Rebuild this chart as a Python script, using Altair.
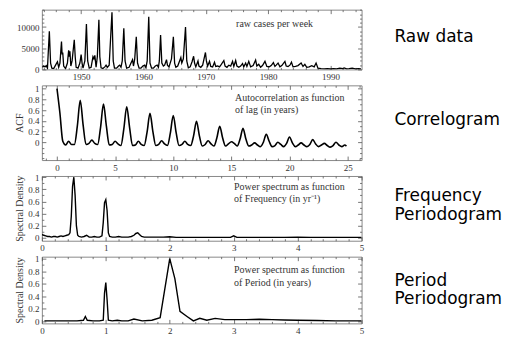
import altair as alt
import pandas as pd

# ---------------- data ----------------
raw_year = [1943.8, 1944.0, 1944.2, 1944.4, 1944.6, 1944.9, 1945.1, 1945.3, 1945.6, 1945.9,
            1946.2, 1946.4, 1946.6, 1946.85, 1946.95, 1947.05, 1947.2, 1947.5, 1947.8, 1948.0,
            1948.1, 1948.2, 1948.35, 1948.55, 1948.9, 1949.05, 1949.2, 1949.5, 1949.8, 1950.0,
            1950.15, 1950.3, 1950.6, 1950.85, 1951.05, 1951.3, 1951.6, 1951.9, 1952.05, 1952.2,
            1952.4, 1952.6, 1952.85, 1953.0, 1953.2, 1953.5, 1953.8, 1954.0, 1954.2, 1954.5,
            1954.95, 1955.15, 1955.35, 1955.7, 1956.0, 1956.2, 1956.4, 1956.6, 1956.85, 1957.05,
            1957.3, 1957.7, 1958.0, 1958.25, 1958.4, 1958.6, 1958.85, 1959.05, 1959.3, 1959.6,
            1959.9, 1960.2, 1960.4, 1960.6, 1960.85, 1961.05, 1961.3, 1961.6, 1961.9, 1962.2,
            1962.4, 1962.55, 1962.75, 1962.95, 1963.2, 1963.4, 1963.7, 1963.85, 1964.1, 1964.5,
            1964.8, 1965.0, 1965.2, 1965.5, 1965.8, 1966.0, 1966.15, 1966.4, 1966.75, 1966.95,
            1967.2, 1967.5, 1967.8, 1968.05, 1968.2, 1968.4, 1968.75, 1968.9, 1969.2, 1969.5,
            1969.95, 1970.1, 1970.3, 1970.6, 1970.8, 1971.1, 1971.4, 1971.6, 1971.9, 1972.2,
            1972.5, 1972.9, 1973.1, 1973.4, 1973.7, 1974.0, 1974.3, 1974.5, 1974.8, 1975.0,
            1975.3, 1975.6, 1975.9, 1976.1, 1976.4, 1976.6, 1976.9, 1977.2, 1977.6, 1978.0,
            1978.2, 1978.5, 1978.8, 1979.1, 1979.5, 1979.8, 1980.2, 1980.5, 1980.85, 1981.1,
            1981.3, 1981.6, 1981.9, 1982.2, 1982.7, 1982.9, 1983.2, 1983.5, 1983.75, 1984.0,
            1984.4, 1984.8, 1985.3, 1985.6, 1985.9, 1986.2, 1986.6, 1987.0, 1987.4, 1987.7,
            1988.0, 1988.5, 1989.0, 1989.5, 1990.0, 1990.5, 1991.0, 1991.5, 1992.0, 1992.2,
            1992.6, 1993.0, 1993.5, 1994.0, 1994.5, 1994.9]
raw_cases = [500, 800, 600, 900, 300, 9000, 1500, 300, 200, 1000,
             1800, 500, 1500, 6600, 3500, 4000, 800, 200, 1500, 4500,
             3000, 4300, 800, 2000, 7000, 3000, 500, 300, 1500, 3500,
             1500, 300, 2000, 10700, 2000, 300, 500, 3000, 2500, 3300,
             500, 3000, 11700, 3000, 400, 200, 600, 1000, 500, 1000,
             13500, 2000, 300, 300, 800, 1000, 500, 2000, 9700, 2000,
             300, 500, 1500, 2300, 800, 2500, 7700, 1500, 300, 300,
             800, 1000, 400, 2000, 12400, 1500, 300, 300, 800, 1000,
             500, 2000, 8100, 1500, 800, 1000, 2300, 1000, 600, 2500,
             7700, 1500, 500, 800, 2000, 2800, 1500, 2500, 10000, 2000,
             400, 600, 1800, 3100, 1500, 600, 2000, 800, 500, 1000,
             4000, 2000, 800, 1900, 700, 600, 1700, 700, 800, 600,
             1200, 2100, 800, 500, 1000, 800, 1900, 700, 2100, 800,
             500, 800, 1400, 600, 1500, 700, 1900, 600, 900, 2200,
             800, 1200, 500, 900, 1900, 700, 600, 900, 1600, 700,
             1000, 1500, 600, 900, 1900, 800, 700, 1000, 1700, 600,
             700, 900, 1500, 700, 1200, 500, 600, 900, 600, 1500,
             300, 200, 150, 200, 100, 200, 150, 300, 200, 350,
             150, 200, 300, 150, 200, 150]

acf_lag = [0, 0.25, 0.5, 0.75, 1, 1.25, 1.5, 1.75, 2, 2.25, 2.5, 2.75, 3, 3.25, 3.5, 3.75,
           4, 4.25, 4.5, 4.75, 5, 5.25, 5.5, 5.75, 6, 6.25, 6.5, 6.75, 7, 7.25, 7.5, 7.75,
           8, 8.25, 8.5, 8.75, 9, 9.25, 9.5, 9.75, 10, 10.25, 10.5, 10.75, 11, 11.25, 11.5, 11.75,
           12, 12.25, 12.5, 12.75, 13, 13.25, 13.5, 13.75, 14, 14.25, 14.5, 14.75, 15, 15.25, 15.5, 15.75,
           16, 16.25, 16.5, 16.75, 17, 17.25, 17.5, 17.75, 18, 18.25, 18.5, 18.75, 19, 19.25, 19.5, 19.75,
           20, 20.25, 20.5, 20.75, 21, 21.25, 21.5, 21.75, 22, 22.25, 22.5, 22.75, 23, 23.25, 23.5, 23.75,
           24, 24.25, 24.5, 24.75, 24.9]
acf_val = [1.00, 0.55, 0.02, -0.05, 0.02, -0.04, -0.04, 0.30,
           0.78, 0.32, -0.04, -0.02, 0.04, -0.02, -0.04, 0.28,
           0.71, 0.30, -0.05, -0.04, 0.02, -0.03, -0.06, 0.25,
           0.66, 0.27, -0.06, -0.05, 0.02, -0.04, -0.06, 0.19,
           0.54, 0.20, -0.06, -0.04, 0.03, -0.03, -0.06, 0.17,
           0.50, 0.18, -0.06, -0.04, 0.02, -0.04, -0.06, 0.12,
           0.39, 0.12, -0.07, -0.04, 0.03, -0.03, -0.07, 0.08,
           0.30, 0.08, -0.07, -0.03, 0.01, -0.02, -0.07, 0.06,
           0.26, 0.06, -0.07, -0.05, -0.01, -0.05, -0.08, 0.00,
           0.15, 0.02, -0.08, -0.06, 0.00, -0.04, -0.08, -0.02,
           0.10, -0.01, -0.08, -0.05, -0.01, -0.05, -0.08, -0.04,
           0.05, -0.03, -0.08, -0.05, -0.02, -0.06, -0.09, -0.06,
           0.00, -0.05, -0.08, -0.05, -0.07]

freq = [0, 0.03, 0.06, 0.09, 0.12, 0.15, 0.18, 0.21, 0.24, 0.27,
        0.3, 0.33, 0.36, 0.39, 0.42, 0.44, 0.46, 0.48, 0.5, 0.52,
        0.54, 0.56, 0.58, 0.62, 0.66, 0.7, 0.74, 0.78, 0.82, 0.86,
        0.9, 0.94, 0.96, 0.98, 1.0, 1.02, 1.04, 1.06, 1.1, 1.15,
        1.2, 1.25, 1.3, 1.35, 1.4, 1.44, 1.47, 1.5, 1.53, 1.56,
        1.6, 1.7, 1.8, 1.9, 2.0, 2.1, 2.2, 2.4, 2.6, 2.8,
        2.95, 3.0, 3.05, 3.2, 3.4, 3.6, 3.8, 4.0, 4.2, 4.4,
        4.6, 4.8, 5.0]
freq_power = [0.05, 0.04, 0.03, 0.02, 0.02, 0.01, 0.02, 0.02, 0.01, 0.02,
              0.03, 0.02, 0.03, 0.04, 0.05, 0.08, 0.35, 0.85, 1.0, 0.7,
              0.2, 0.04, 0.02, 0.01, 0.02, 0.04, 0.01, 0.01, 0.02, 0.01,
              0.01, 0.03, 0.25, 0.58, 0.63, 0.45, 0.08, 0.02, 0.01, 0.01,
              0.02, 0.01, 0.01, 0.01, 0.02, 0.04, 0.07, 0.08, 0.05, 0.02,
              0.01, 0.01, 0.01, 0.01, 0.015, 0.005, 0.005, 0.005, 0.005, 0.005,
              0.005, 0.03, 0.005, 0.005, 0.005, 0.005, 0.005, 0.01, 0.005, 0.005,
              0.005, 0.005, 0.005]

period = [0.04, 0.2, 0.4, 0.55, 0.65, 0.68, 0.71, 0.8, 0.9, 0.96,
          0.98, 1.0, 1.02, 1.04, 1.1, 1.18, 1.25, 1.35, 1.44, 1.57,
          1.72, 1.85, 2.0, 2.08, 2.16, 2.27, 2.37, 2.47, 2.58, 2.71,
          2.86, 3.0, 3.2, 3.4, 3.6, 3.8, 4.0, 4.3, 4.6, 5.0]
period_power = [0.01, 0.01, 0.01, 0.01, 0.02, 0.08, 0.02, 0.01, 0.01, 0.02,
                0.45, 0.62, 0.35, 0.02, 0.01, 0.02, 0.01, 0.01, 0.04, 0.01,
                0.02, 0.06, 1.0, 0.68, 0.16, 0.08, 0.01, 0.05, 0.02, 0.05,
                0.03, 0.03, 0.03, 0.035, 0.03, 0.025, 0.02, 0.015, 0.01, 0.01]

year_major = [1950, 1960, 1970, 1980, 1990]
year_minor = [1944, 1946, 1948, 1952, 1954, 1956, 1958, 1962, 1964, 1966, 1968, 1972, 1974,
              1976, 1978, 1982, 1984, 1986, 1988, 1992, 1994]
cases_major = [0, 5000, 10000]
cases_minor = [1000, 2000, 3000, 4000, 6000, 7000, 8000, 9000, 11000, 12000, 13000, 14000]
lag_major = [0, 5, 10, 15, 20, 25]
lag_minor = [-1, 1, 2, 3, 4, 6, 7, 8, 9, 11, 12, 13, 14, 16, 17, 18, 19, 21, 22, 23, 24, 26]
acf_major = [0, 0.2, 0.4, 0.6, 0.8, 1]
acf_minor = [-0.3, -0.2, -0.1, 0.1, 0.3, 0.5, 0.7, 0.9]
f_major = [0, 1, 2, 3, 4, 5]
f_minor = [0.2, 0.4, 0.6, 0.8, 1.2, 1.4, 1.6, 1.8, 2.2, 2.4, 2.6, 2.8, 3.2, 3.4, 3.6, 3.8,
           4.2, 4.4, 4.6, 4.8]
p_major = [0, 0.2, 0.4, 0.6, 0.8, 1]
p_minor = [0.1, 0.3, 0.5, 0.7, 0.9]

SERIF = "Liberation Serif"
SANS = "DejaVu Sans"
W = 321
BIG = 17


def axis(orient, values, size, labels, fmt="~g", title=None):
    kw = dict(orient=orient, values=values, tickSize=size, offset=-size, domain=False,
              grid=False, labels=labels, tickColor="#555", tickWidth=0.8, title=title)
    if labels:
        kw.update(format=fmt, labelPadding=3, labelOverlap=False, labelFlush=False)
    return alt.Axis(**kw)


def txt(s, x, y, size, font, color="#333", baseline="middle"):
    return alt.Chart(alt.Data(values=[{"k": 1}])).mark_text(
        text=s, align="left", baseline=baseline, font=font, fontSize=size, color=color
    ).encode(x=alt.value(x), y=alt.value(y))


def panel(df, xdom, ydom, xmaj, xmin, ymaj, ymin, xfmt, yfmt, ytitle, h, texts, sw,
          interp="linear"):
    xs = alt.Scale(domain=xdom, nice=False, zero=False)
    ys = alt.Scale(domain=ydom, nice=False, zero=False)
    base = alt.Chart(df)
    line = base.mark_line(color="black", strokeWidth=sw, clip=True, interpolate=interp).encode(
        x=alt.X("x:Q", scale=xs, axis=axis("bottom", xmaj, 4, True, xfmt)),
        y=alt.Y("y:Q", scale=ys, axis=axis("left", ymaj, 4, True, yfmt, ytitle)),
    )

    def ghost(xo, yo, xv, yv, size):
        return base.mark_line(opacity=0).encode(
            x=alt.X("x:Q", scale=xs, axis=axis(xo, xv, size, False)),
            y=alt.Y("y:Q", scale=ys, axis=axis(yo, yv, size, False)),
        )

    layers = [line,
              ghost("top", "right", xmaj, ymaj, 4),
              ghost("bottom", "left", xmin, ymin, 2),
              ghost("top", "right", xmin, ymin, 2)] + texts
    return alt.layer(*layers).resolve_axis(x="independent", y="independent").properties(
        width=W, height=h)


df1 = pd.DataFrame({"x": raw_year, "y": raw_cases})
df2 = pd.DataFrame({"x": acf_lag, "y": acf_val})
df3 = pd.DataFrame({"x": freq, "y": freq_power})
df4 = pd.DataFrame({"x": period, "y": period_power})

p1 = panel(df1, [1943.7, 1995.0], [0, 14100], year_major, year_minor, cases_major, cases_minor,
           "d", "d", None, 60,
           [txt("raw cases per week", 195, 14, 10, SERIF),
            txt("Raw data", 354, 32, BIG, SANS, "black", "alphabetic")], 1.3)
p2 = panel(df2, [-1.3, 26.2], [-0.33, 1.06], lag_major, lag_minor, acf_major, acf_minor,
           "d", "~g", "ACF", 75,
           [txt("Autocorrelation as function", 194, 13, 10, SERIF),
            txt("of lag (in years)", 194, 25, 10, SERIF),
            txt("Correlogram", 354, 40, BIG, SANS, "black", "alphabetic")], 1.6, "monotone")
p3 = panel(df3, [0, 5], [-0.05, 1.02], f_major, f_minor, p_major, p_minor,
           "d", "~g", "Spectral Density", 65,
           [txt("Power spectrum as function", 193, 11, 10, SERIF),
            txt("of Frequency (in yr\u207b\u00b9)", 193, 23, 10, SERIF),
            txt("Frequency", 354, 25, BIG, SANS, "black", "alphabetic"),
            txt("Periodogram", 354, 44, BIG, SANS, "black", "alphabetic")], 1.4)
p4 = panel(df4, [0, 5], [-0.03, 1.03], f_major, f_minor, p_major, p_minor,
           "d", "~g", "Spectral Density", 67,
           [txt("Power spectrum as function", 193, 13, 10, SERIF),
            txt("of Period (in years)", 193, 26, 10, SERIF),
            txt("Period", 354, 29, BIG, SANS, "black", "alphabetic"),
            txt("Periodogram", 354, 48, BIG, SANS, "black", "alphabetic")], 1.4)

chart = alt.vconcat(p1, p2, p3, p4, spacing=16, bounds="flush").properties(
    padding={"left": 6, "top": 0, "right": 0, "bottom": 0}
).configure_view(stroke="#888", strokeWidth=1).configure_axis(
    labelFont=SERIF, labelFontSize=9, labelColor="#333",
    titleFont=SERIF, titleFontSize=10, titleColor="#333", titleFontWeight="normal",
    titlePadding=3,
)

chart.save("out.html", embed_options={"renderer": "svg", "actions": False})
